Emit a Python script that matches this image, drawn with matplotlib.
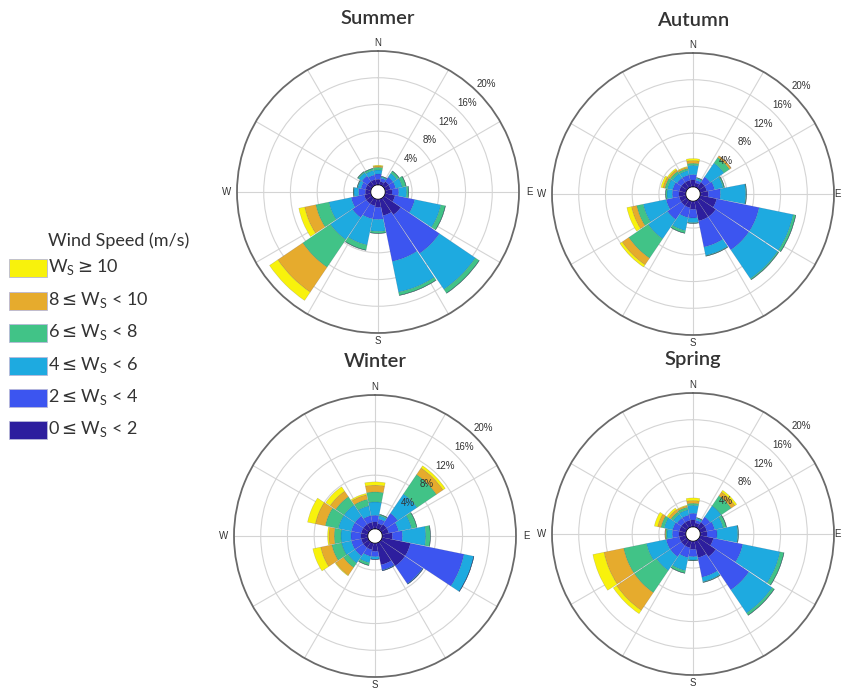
import numpy as np
import matplotlib
matplotlib.use("Agg")
import matplotlib.pyplot as plt
from matplotlib.patches import Rectangle

W, H = 843, 689
plt.rcParams['font.family'] = ['Lato', 'DejaVu Sans']

directions = ['N', 'NNE', 'NE', 'ENE', 'E', 'ESE', 'SE', 'SSE',
              'S', 'SSW', 'SW', 'WSW', 'W', 'WNW', 'NW', 'NNW']
class_labels = [r'0$\leq$W$_\mathregular{S}$ < 2',
                r'2$\leq$W$_\mathregular{S}$ < 4',
                r'4$\leq$W$_\mathregular{S}$ < 6',
                r'6$\leq$W$_\mathregular{S}$ < 8',
                r'8$\leq$W$_\mathregular{S}$ < 10',
                r'W$_\mathregular{S}$$\geq$10']
class_colors = ['#2d1e9e', '#3c55f0', '#1eaae0', '#41c387', '#e6ab2d', '#f8f20c']
radial_ticks = [4, 8, 12, 16, 20]

# frequency (%) per speed class (rows: 0-2, 2-4, 4-6, 6-8, 8-10, >=10), per direction
summer = [
    [0.8, 0.5, 0.8, 0.8, 1.0, 1.5, 3.0, 2.5, 1.2, 1.0, 1.0, 1.0, 0.8, 0.8, 0.8, 0.8],
    [0.8, 0.5, 0.8, 0.8, 1.0, 3.0, 7.0, 7.0, 1.8, 2.0, 2.5, 2.0, 1.0, 0.7, 1.0, 0.7],
    [0.6, 0.2, 0.7, 1.0, 1.2, 4.0, 6.5, 4.7, 1.8, 4.0, 4.0, 3.4, 0.7, 0.5, 0.6, 0.7],
    [0.4, 0.1, 0.4, 0.6, 0.3, 0.7, 0.7, 0.5, 0.3, 0.8, 5.0, 2.0, 0.1, 0.1, 0.2, 0.3],
    [0.2, 0.0, 0.0, 0.0, 0.0, 0.0, 0.0, 0.0, 0.0, 0.0, 4.5, 1.7, 0.0, 0.0, 0.0, 0.0],
    [0.1, 0.0, 0.0, 0.0, 0.0, 0.0, 0.0, 0.0, 0.0, 0.0, 1.5, 0.9, 0.0, 0.0, 0.0, 0.0],
]
autumn = [
    [1.0, 0.6, 1.0, 1.0, 1.2, 2.5, 3.0, 3.0, 1.2, 1.0, 1.0, 1.0, 1.0, 1.0, 1.0, 1.0],
    [0.8, 0.4, 1.0, 1.2, 1.8, 6.5, 6.0, 4.0, 1.3, 1.5, 2.5, 2.0, 1.0, 1.0, 0.8, 0.8],
    [1.4, 0.3, 2.5, 1.3, 3.8, 5.2, 5.2, 1.3, 0.7, 2.0, 3.5, 3.5, 0.8, 0.8, 0.8, 0.7],
    [0.3, 0.1, 1.0, 0.2, 0.1, 0.4, 0.2, 0.1, 0.1, 0.4, 3.5, 1.0, 0.2, 0.4, 0.4, 0.3],
    [0.4, 0.0, 0.3, 0.0, 0.0, 0.0, 0.0, 0.0, 0.0, 0.0, 1.2, 0.8, 0.0, 0.3, 0.3, 0.2],
    [0.3, 0.0, 0.0, 0.0, 0.0, 0.0, 0.0, 0.0, 0.0, 0.0, 0.4, 0.7, 0.0, 0.3, 0.2, 0.1],
]
winter = [
    [1.0, 0.8, 1.0, 1.0, 1.5, 4.3, 4.3, 3.3, 1.2, 1.0, 1.0, 1.0, 1.0, 1.0, 1.0, 1.0],
    [1.0, 0.7, 2.0, 1.5, 1.5, 8.2, 3.2, 0.8, 0.8, 1.0, 1.5, 1.5, 1.5, 1.5, 1.5, 1.0],
    [2.0, 0.5, 3.5, 2.0, 3.5, 1.5, 0.1, 0.1, 0.4, 1.0, 1.3, 1.5, 1.5, 2.0, 2.0, 1.5],
    [1.5, 0.2, 3.5, 0.8, 0.7, 0.0, 0.0, 0.0, 0.0, 0.4, 0.8, 1.5, 1.0, 2.0, 1.5, 1.0],
    [1.0, 0.0, 1.2, 0.0, 0.0, 0.0, 0.0, 0.0, 0.0, 0.0, 1.4, 1.7, 0.8, 1.5, 1.0, 0.7],
    [0.5, 0.0, 0.4, 0.0, 0.0, 0.0, 0.0, 0.0, 0.0, 0.0, 0.1, 1.2, 0.2, 1.2, 0.8, 0.2],
]
spring = [
    [1.0, 0.6, 1.0, 1.0, 1.0, 2.0, 3.0, 2.5, 1.2, 1.0, 1.0, 1.0, 1.0, 1.0, 1.0, 1.0],
    [1.0, 0.4, 1.0, 1.2, 1.5, 4.5, 6.0, 3.0, 1.1, 1.5, 2.0, 2.0, 1.0, 1.0, 0.8, 0.8],
    [1.2, 0.3, 2.0, 1.3, 3.1, 5.7, 4.2, 0.7, 0.5, 2.0, 2.5, 3.0, 0.8, 1.3, 0.7, 0.8],
    [0.3, 0.1, 1.8, 0.5, 0.1, 0.6, 0.4, 0.1, 0.1, 0.4, 4.0, 3.5, 0.2, 0.5, 0.4, 0.4],
    [0.4, 0.0, 0.7, 0.0, 0.0, 0.0, 0.0, 0.0, 0.0, 0.0, 3.2, 3.0, 0.1, 0.5, 0.4, 0.2],
    [0.4, 0.0, 0.3, 0.0, 0.0, 0.0, 0.0, 0.0, 0.0, 0.0, 0.6, 1.7, 0.0, 0.5, 0.3, 0.1],
]
seasons = [('Summer', summer), ('Autumn', autumn), ('Winter', winter), ('Spring', spring)]
# centre pixel positions (x, y from top) of each rose
centers = [(378, 192), (693, 194), (375, 536), (693, 534)]
R = 141  # px radius of outer circle

fig = plt.figure(figsize=(W / 100, H / 100), dpi=100)

theta = np.deg2rad(np.arange(len(directions)) * 22.5)
width = np.deg2rad(22.5) * 0.97

for i, ((name, data), (cx, cy)) in enumerate(zip(seasons, centers)):
    ax = fig.add_axes([(cx - R) / W, (H - cy - R) / H, 2 * R / W, 2 * R / H],
                      projection='polar')
    ax.set_theta_zero_location('N')
    ax.set_theta_direction(-1)
    ax.set_ylim(0, 20)
    ax.set_rorigin(-1.1)
    ax.set_axisbelow(True)
    ax.set_thetagrids(np.arange(0, 360, 30), labels=[''] * 12)
    ax.set_rgrids([4, 8, 12, 16], labels=[''] * 4)
    ax.grid(True, color='#d4d4d4', linewidth=0.8)
    ax.spines['polar'].set_color('#6a6a6a')
    ax.spines['polar'].set_linewidth(1.3)
    ax.tick_params(length=0, pad=0)

    bottom = np.zeros(len(directions))
    for k, row in enumerate(data):
        vals = np.array(row)
        ax.bar(theta, vals, width=width, bottom=bottom, color=class_colors[k],
               edgecolor=(0.1, 0.1, 0.25, 0.22), linewidth=0.35, zorder=3)
        bottom = bottom + vals

    for v in radial_ticks:
        ax.text(np.deg2rad(45), v + 1.8, f'{v}%', fontsize=7,
                family=['Liberation Sans', 'DejaVu Sans'], color='#333333',
                ha='center', va='center', zorder=5, clip_on=False)
    right_col = (i % 2 == 1)
    for lab, ang in zip(['N', 'E', 'S', 'W'], [0, 90, 180, 270]):
        if lab in ('N', 'S'):
            rr = 21.2
        elif right_col and lab == 'E':
            rr = 20.45
        else:
            rr = 21.5
        ax.text(np.deg2rad(ang), rr, lab, fontsize=7,
                family=['Liberation Sans', 'DejaVu Sans'], color='#333333',
                ha='center', va='center', clip_on=False)

    fig.text(cx / W, 1 - (cy - 174) / H, name, fontsize=14.5, fontweight='semibold',
             color='#333333', ha='center', va='center')

# legend
lax = fig.add_axes([0, 0, 1, 1])
lax.set_xlim(0, W)
lax.set_ylim(H, 0)
lax.axis('off')
lax.text(48, 241, 'Wind Speed (m/s)', fontsize=13, color='#333333',
         ha='left', va='center')
legend_y = [268, 301, 333, 366, 398, 430]
for k, yy in enumerate(legend_y):
    idx = len(class_labels) - 1 - k
    lax.add_patch(Rectangle((9, yy - 9), 38, 18, facecolor=class_colors[idx],
                            edgecolor='#b8b8d8', linewidth=0.6))
    lax.text(48, yy - 1, class_labels[idx], fontsize=13, color='#333333',
             ha='left', va='center')

fig.savefig('out.png', dpi=100)
